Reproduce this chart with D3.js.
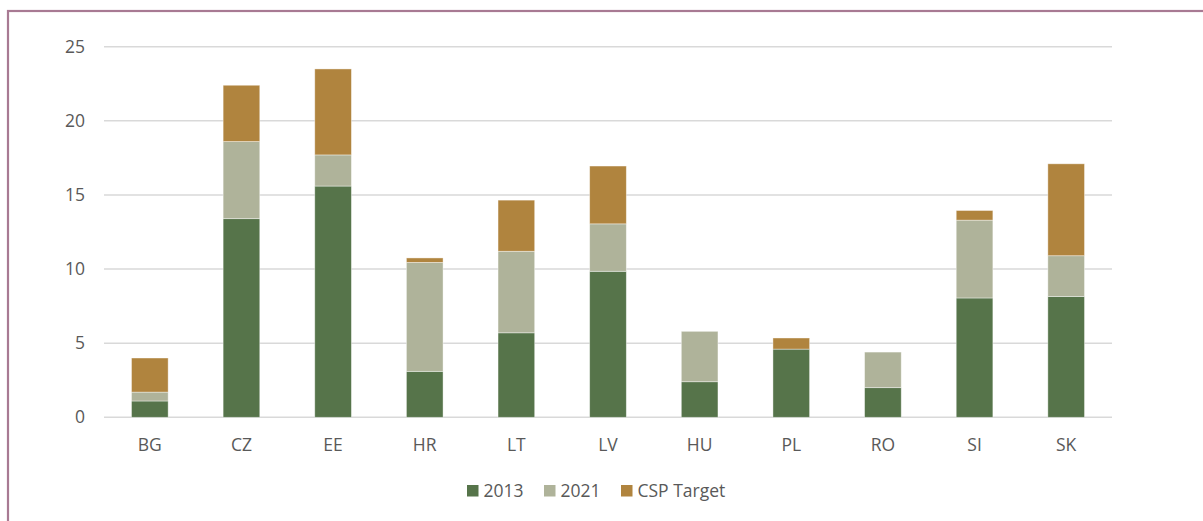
<!DOCTYPE html>
<html>
<head>
<meta charset="utf-8">
<script src="https://cdn.jsdelivr.net/npm/d3@7.9.0/dist/d3.min.js"></script>
<style>
  html, body { margin: 0; padding: 0; background: #fff; }
  svg { display: block; font-family: "Open Sans", sans-serif; }
</style>
</head>
<body>
<svg width="1203" height="521"></svg>
<script>
// country codes
const countries = ['BG', 'CZ', 'EE', 'HR', 'LT', 'LV', 'HU', 'PL', 'RO', 'SI', 'SK'];
// levels (each series stacks on top of the previous level)
const level2013 = [1.1, 13.4, 15.6, 3.1, 5.7, 9.85, 2.4, 4.6, 2.0, 8.05, 8.15];
const level2021 = [1.7, 18.6, 17.7, 10.45, 11.2, 13.05, 5.8, 4.6, 4.4, 13.3, 10.9];
const levelTarget = [4.0, 22.4, 23.5, 10.75, 14.65, 16.95, 5.8, 5.35, 4.4, 13.95, 17.1];
const seriesNames = ['2013', '2021', 'CSP Target'];
const seriesColors = ['#56744a', '#afb39a', '#b0843e'];
const yTicks = [0, 5, 10, 15, 20, 25];

const svg = d3.select('svg');

// frame
svg.append('rect')
  .attr('x', 8).attr('y', 11)
  .attr('width', 1220).attr('height', 540)
  .attr('fill', 'none')
  .attr('stroke', '#a87a93')
  .attr('stroke-width', 2.2);

const x = d3.scaleBand().domain(countries).range([104, 1112]).paddingInner(0.6).paddingOuter(0.3);
const y = d3.scaleLinear().domain([0, 25]).range([417.3, 46.7]);

// gridlines
svg.append('g')
  .selectAll('line')
  .data(yTicks)
  .join('line')
  .attr('x1', 104).attr('x2', 1112)
  .attr('y1', d => y(d)).attr('y2', d => y(d))
  .attr('stroke', '#d9d9d9')
  .attr('stroke-width', 1.4);

// y labels
svg.append('g')
  .selectAll('text')
  .data(yTicks)
  .join('text')
  .attr('x', 85)
  .attr('y', d => y(d))
  .attr('dy', '0.35em')
  .attr('text-anchor', 'end')
  .attr('font-size', 17.5)
  .attr('fill', '#595959')
  .text(d => d);

// build stacked segments
const levels = [level2013, level2021, levelTarget];
const segments = [];
countries.forEach((c, i) => {
  let prev = 0;
  levels.forEach((lv, s) => {
    segments.push({ country: c, series: s, y0: prev, y1: lv[i] });
    prev = lv[i];
  });
});

svg.append('g')
  .selectAll('rect')
  .data(segments.filter(d => d.y1 > d.y0))
  .join('rect')
  .attr('x', d => x(d.country))
  .attr('width', x.bandwidth())
  .attr('y', d => y(d.y1))
  .attr('height', d => y(d.y0) - y(d.y1))
  .attr('fill', d => seriesColors[d.series])
  .attr('stroke', 'rgba(255,255,255,0.5)')
  .attr('stroke-width', 0.8);

// x labels
svg.append('g')
  .selectAll('text')
  .data(countries)
  .join('text')
  .attr('x', d => x(d) + x.bandwidth() / 2)
  .attr('y', 451)
  .attr('text-anchor', 'middle')
  .attr('font-size', 17.5)
  .attr('fill', '#595959')
  .text(d => d);

// legend
const legendX = [467, 544, 621];
const legend = svg.append('g')
  .selectAll('g')
  .data(seriesNames)
  .join('g')
  .attr('transform', (d, i) => `translate(${legendX[i]},491)`);
legend.append('rect')
  .attr('x', 0).attr('y', -6)
  .attr('width', 11.5).attr('height', 11.5)
  .attr('fill', (d, i) => seriesColors[i]);
legend.append('text')
  .attr('x', 16.5)
  .attr('y', 0)
  .attr('dy', '0.35em')
  .attr('font-size', 17.5)
  .attr('fill', '#595959')
  .text(d => d);
</script>
</body>
</html>
